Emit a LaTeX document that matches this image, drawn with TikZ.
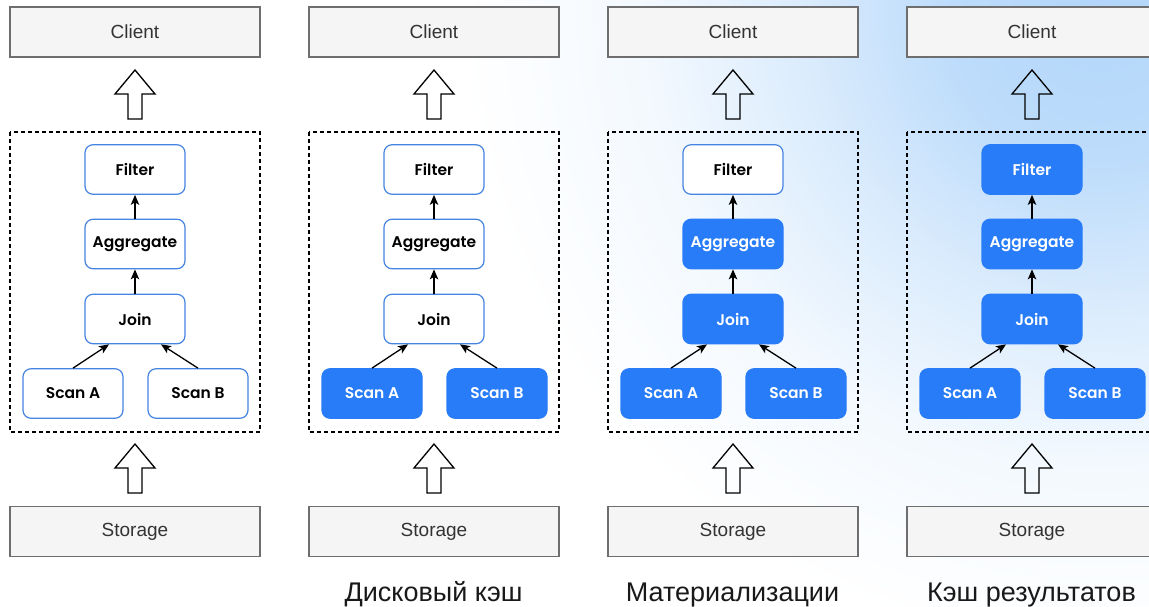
\documentclass[tikz,border=0pt]{standalone}
\usepackage{fontspec}
\setmainfont{Liberation Sans}
\newfontfamily\opfont{Poppins SemiBold}
\usetikzlibrary{arrows.meta}

\definecolor{glowblue}{RGB}{178,214,250}
\definecolor{opblue}{RGB}{40,124,248}
\definecolor{opedge}{RGB}{70,132,225}
\definecolor{boxfill}{RGB}{245,245,245}
\definecolor{boxedge}{RGB}{110,110,110}
\definecolor{boxtext}{RGB}{51,51,51}

\pgfdeclareradialshading{glow}{\pgfpoint{0bp}{0bp}}{%
  color(0bp)=(glowblue);
  color(6bp)=(glowblue!85!white);
  color(12bp)=(glowblue!45!white);
  color(18bp)=(glowblue!15!white);
  color(25bp)=(white);
  color(50bp)=(white)}

\tikzset{
  endbox/.style={draw=boxedge, line width=1.3pt, fill=boxfill,
    minimum width=250pt, minimum height=50pt, inner sep=0pt,
    font=\fontsize{19}{22}\selectfont, text=boxtext},
  opbox/.style={rounded corners=8pt, minimum width=100pt, minimum height=49.5pt,
    inner sep=0pt, font=\opfont\fontsize{15.5}{18}\selectfont},
  plain/.style={opbox, draw=opedge, line width=1.2pt, fill=white, text=black},
  cached/.style={opbox, draw=opblue, line width=1.2pt, fill=opblue, text=white},
  plan/.style={draw=black, line width=1.2pt, dash pattern=on 4pt off 3pt},
  flow/.style={draw=black, line width=1.3pt,
    -{Stealth[length=10pt,width=8.5pt,inset=2.5pt]}},
  bigarrow/.style={draw=black, line width=1.3pt, line join=miter},
  caption/.style={font=\fontsize{27}{30}\selectfont, text=black!90, anchor=base}
}

% One query-plan column: #1 x offset, #2 name prefix,
% #3..#6 styles of Filter, Aggregate, Join and the two scans
\newcommand\planpanel[6]{%
  \begin{scope}[xshift=#1pt]
    \node[endbox] (#2client) at (135,32) {Client};
    \node[endbox] (#2storage) at (135,531.5) {Storage};
    \draw[plan] (10,132) rectangle (260,432);
    \node[#3] (#2filter) at (135,169.5) {Filter};
    \node[#4] (#2agg) at (135,244) {Aggregate};
    \node[#5] (#2join) at (135,319) {Join};
    \node[#6] (#2scana) at (73,393.5) {Scan A};
    \node[#6] (#2scanb) at (198,393.5) {Scan B};
    \draw[flow] (#2agg.north) -- (#2filter.south);
    \draw[flow] (#2join.north) -- (#2agg.south);
    \draw[flow] (#2scana.north) -- ([xshift=-26pt]#2join.south);
    \draw[flow] (#2scanb.north) -- ([xshift=26pt]#2join.south);
    % hollow block arrows: plan -> client, storage -> plan
    \draw[bigarrow] (135,70) -- (155,94) -- (142,94) -- (142,119)
      -- (128,119) -- (128,94) -- (115,94) -- cycle;
    \draw[bigarrow] (135,444) -- (155,468) -- (142,468) -- (142,493)
      -- (128,493) -- (128,468) -- (115,468) -- cycle;
  \end{scope}}

\begin{document}
\begin{tikzpicture}[x=1pt, y=-1pt]
  \useasboundingbox (0,0) rectangle (1149,606);
  \fill[white] (0,0) rectangle (1149,606);
  \begin{scope}
    \clip (0,0) rectangle (1149,606);
    \shade[shading=glow] (1100,10) circle (640);
  \end{scope}

  \planpanel{0}{p}{plain}{plain}{plain}{plain}
  \planpanel{299}{d}{plain}{plain}{plain}{cached}
  \planpanel{598}{m}{plain}{cached}{cached}{cached}
  \planpanel{897}{r}{cached}{cached}{cached}{cached}

  \node[caption] (capd) at (433.5,601) {Дисковый кэш};
  \node[caption] (capm) at (732.5,601) {Материализации};
  \node[caption] (capr) at (1031.5,601) {Кэш результатов};
\end{tikzpicture}
\end{document}
